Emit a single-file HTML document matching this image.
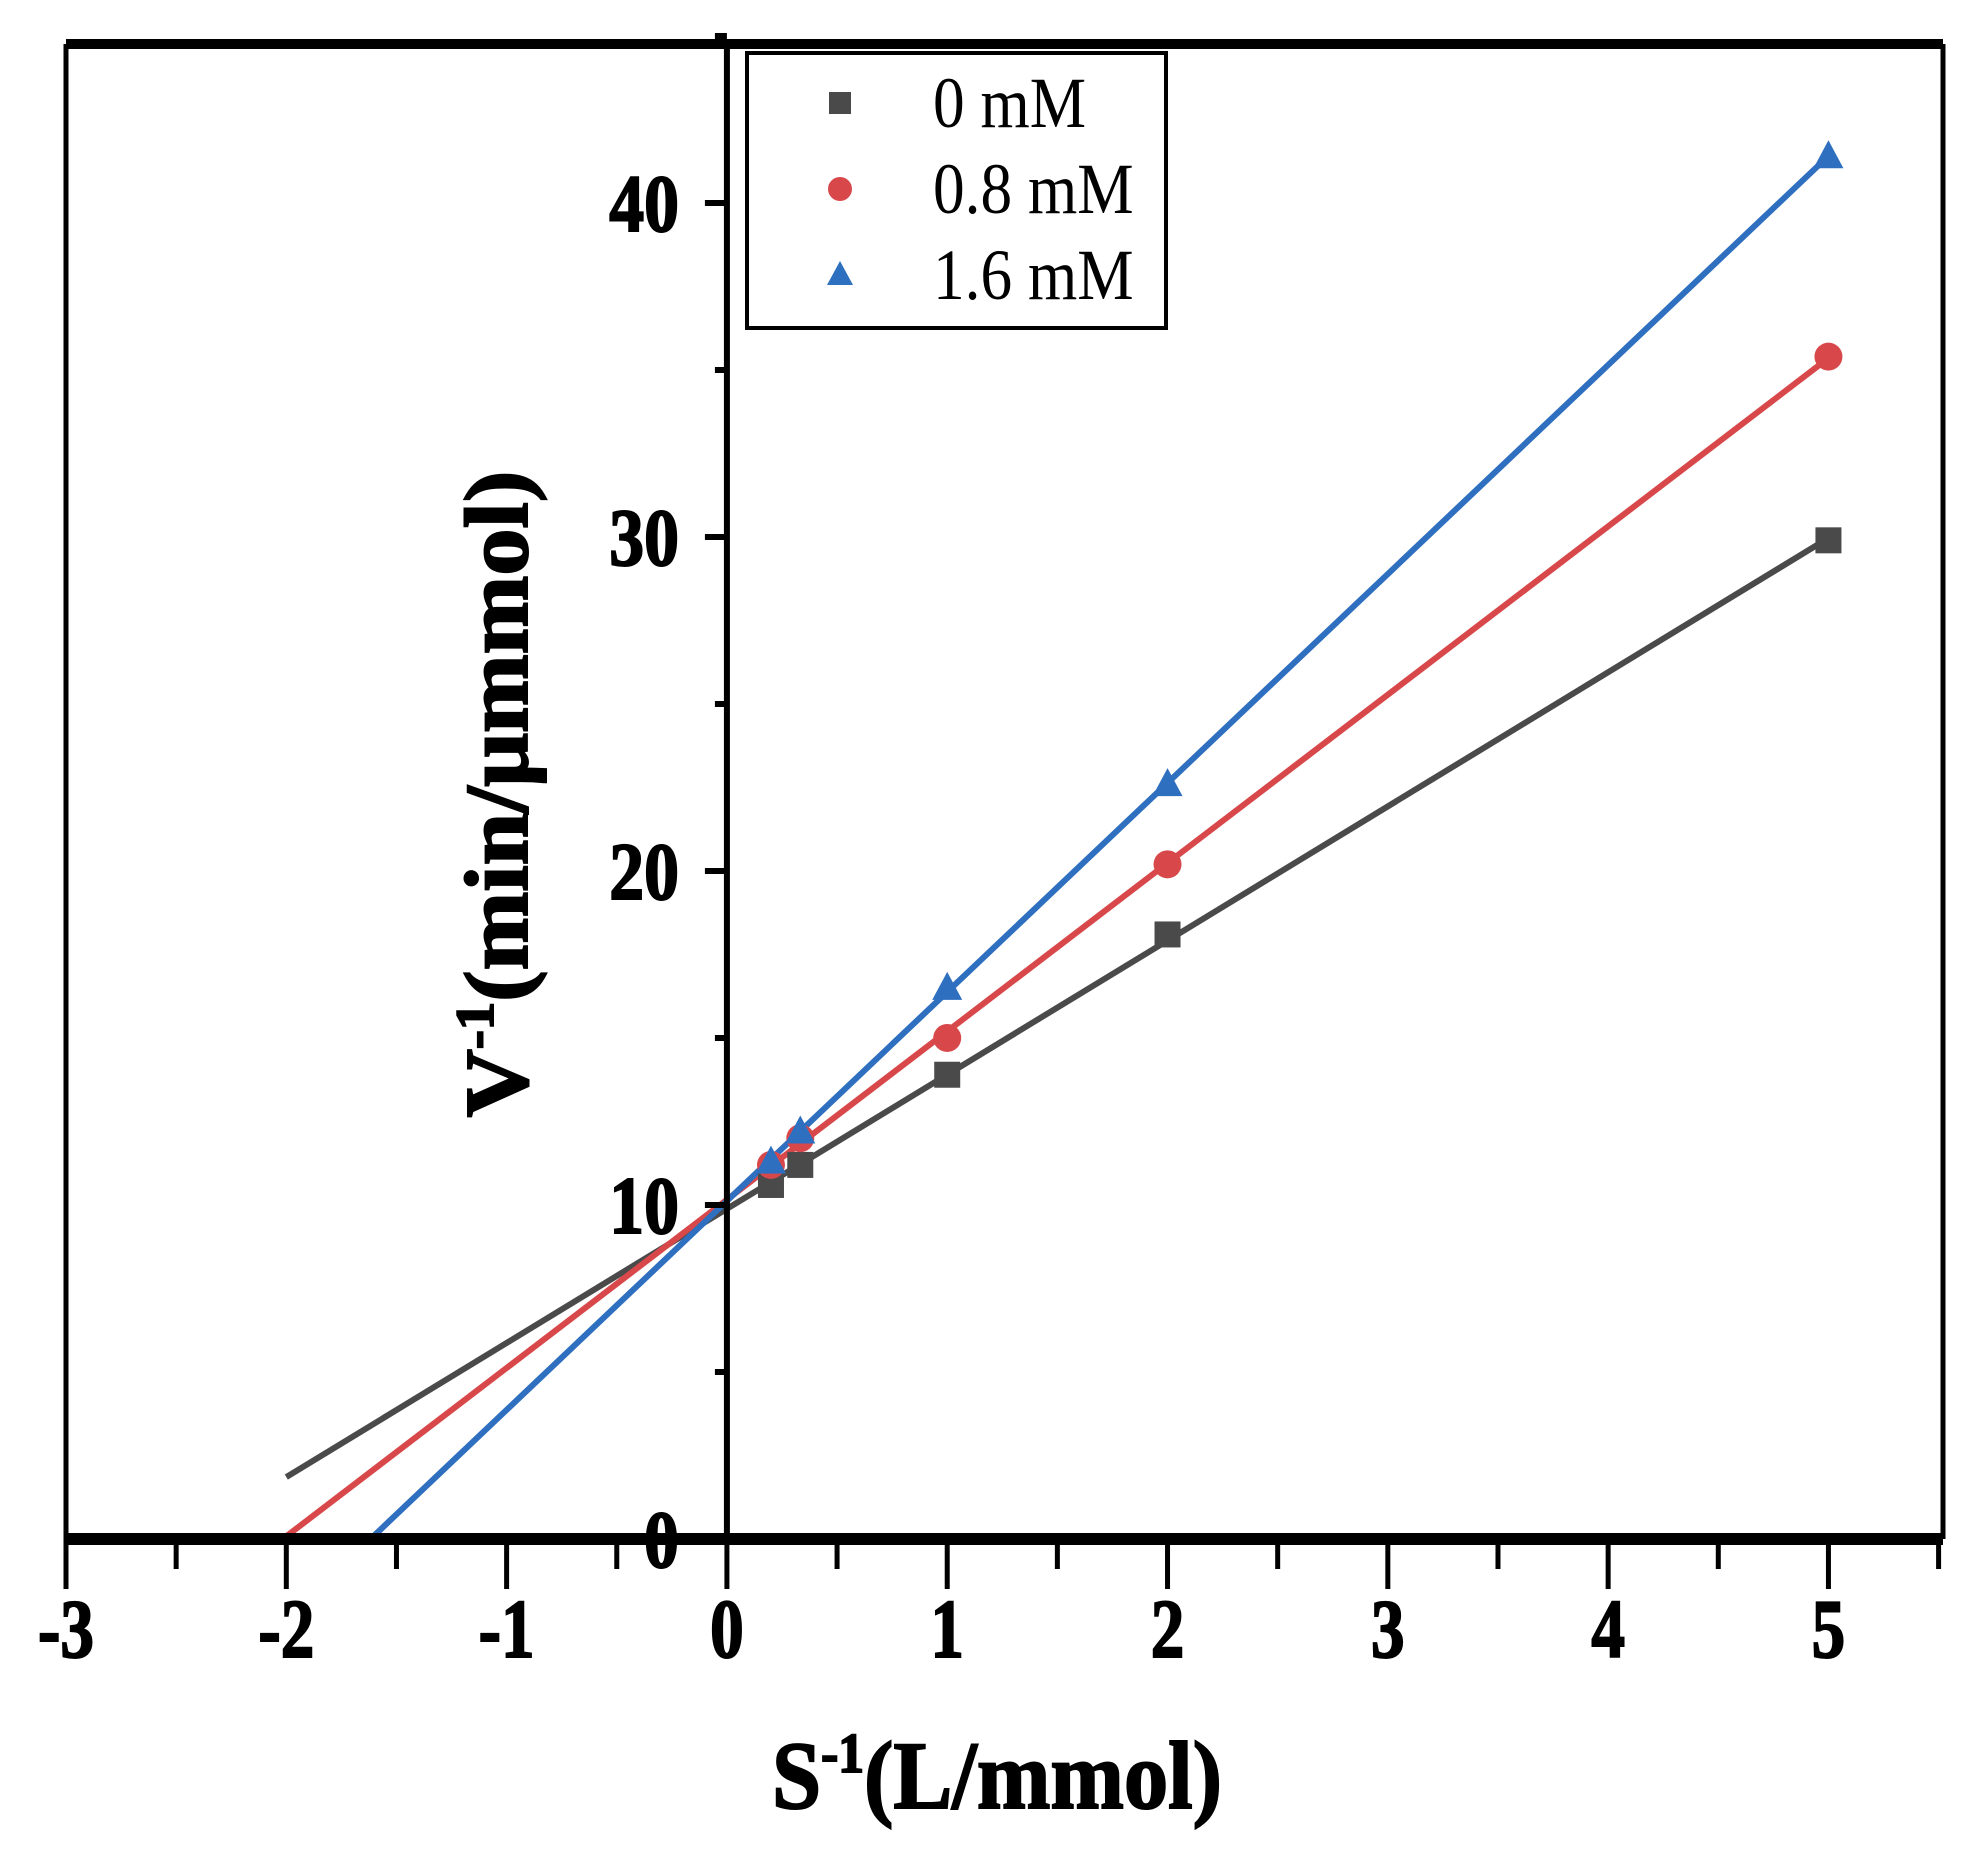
<!DOCTYPE html>
<html><head><meta charset="utf-8">
<style>
html,body{margin:0;padding:0;background:#fff;}
svg{display:block;}
text{font-family:"Liberation Serif",serif;font-weight:bold;fill:#000;}
</style></head>
<body>
<svg id="chart" width="1984" height="1857" viewBox="0 0 1984 1857" xmlns="http://www.w3.org/2000/svg"></svg>
<script>
const xValues = [0.2, 0.333, 1, 2, 5];
const series0 = [10.6, 11.2, 13.9, 18.1, 29.9];
const series08 = [11.2, 12.0, 15.0, 20.2, 35.4];
const series16 = [11.3, 12.2, 16.5, 22.6, 41.4];
const seriesNames = ["0 mM", "0.8 mM", "1.6 mM"];
const lineStarts = [-2, -2, -1.6];
const xTicks = [-3, -2, -1, 0, 1, 2, 3, 4, 5];
const yTicks = [0, 10, 20, 30, 40];

const svg = document.getElementById('chart');
const NS = 'http://www.w3.org/2000/svg';
const L = 66, R = 1943, T = 44, B = 1539;
const xMin = -3, xMax = 5.52, yMin = 0, yMax = 44.76;
function sx(v){ return L + (v - xMin) / (xMax - xMin) * (R - L); }
function sy(v){ return B - (v - yMin) / (yMax - yMin) * (B - T); }
function mk(tag, attrs, parent){
  const e = document.createElementNS(NS, tag);
  for (const k in attrs) e.setAttribute(k, attrs[k]);
  (parent || svg).appendChild(e);
  return e;
}
const colors = ["#4a4a4a", "#d8484a", "#2f6fc0"];
const allSeries = [series0, series08, series16];

let f = mk('line', {x1:L, y1:T, x2:R, y2:T, stroke:'#000', 'stroke-width':10});
 
f = mk('line', {x1:L, y1:T, x2:L, y2:B, stroke:'#000', 'stroke-width':5});
 
f = mk('line', {x1:R, y1:T, x2:R, y2:B, stroke:'#000', 'stroke-width':5});
 

allSeries.forEach((ys, i) => {
  const n = xValues.length;
  let sxv = 0, syv = 0, sxx = 0, sxy = 0;
  for (let k = 0; k < n; k++){ sxv += xValues[k]; syv += ys[k]; sxx += xValues[k]*xValues[k]; sxy += xValues[k]*ys[k]; }
  const m = (n*sxy - sxv*syv) / (n*sxx - sxv*sxv);
  const b = (syv - m*sxv) / n;
  const x0 = lineStarts[i], x1 = xValues[n-1];
  const ln = mk('line', {x1:sx(x0), y1:sy(Math.max(0, m*x0+b)), x2:sx(x1), y2:sy(m*x1+b), stroke:colors[i], 'stroke-width':6});
  
  
});

allSeries.forEach((ys, i) => {
  ys.forEach((v, k) => {
    const cx = sx(xValues[k]), cy = sy(v);
    let m;
    if (i === 0) m = mk('rect', {x:cx-13, y:cy-13, width:26, height:26, fill:colors[0]});
    else if (i === 1) m = mk('circle', {cx:cx, cy:cy, r:14, fill:colors[1]});
    else m = mk('polygon', {points:`${cx},${cy-16} ${cx-15},${cy+12} ${cx+15},${cy+12}`, fill:colors[2]});
    
    
  });
});

const yx = sx(0);
f = mk('line', {x1:yx, y1:T, x2:yx, y2:B, stroke:'#000', 'stroke-width':6});
 
for (let v = 0; v <= 45; v += 5){
  const major = v % 10 === 0;
  const t = mk('line', {x1:yx - (major ? 22 : 12), y1:sy(v), x2:yx, y2:sy(v), stroke:'#000', 'stroke-width':6});
  
  
}
yTicks.forEach(v => {
  const ax = yx - 48;
  const t = mk('text', {x:ax, y:sy(v) + 28, 'font-size':82, 'text-anchor':'end', stroke:'#000', 'stroke-width':2, transform:`translate(${ax},0) scale(0.85,1) translate(${-ax},0)`});
  t.textContent = v;
  
  
});

f = mk('line', {x1:L, y1:B, x2:R, y2:B, stroke:'#000', 'stroke-width':12});
 
for (let v = -3; v <= 5.5; v += 0.5){
  const major = Math.abs(v - Math.round(v)) < 1e-6;
  const t = mk('line', {x1:sx(v), y1:B, x2:sx(v), y2:B + (major ? 50 : 30), stroke:'#000', 'stroke-width':5});
  
  
}
xTicks.forEach(v => {
  const t = mk('text', {x:sx(v), y:B + 118, 'font-size':84, 'text-anchor':'middle', stroke:'#000', 'stroke-width':2, transform:`translate(${sx(v)},0) scale(0.8,1) translate(${-sx(v)},0)`});
  t.textContent = v < 0 ? '-' + Math.abs(v) : String(v);
  
  
});

let xt = mk('text', {x:997, y:1808, 'font-size':96, 'text-anchor':'middle', stroke:'#000', 'stroke-width':2, transform:'translate(997,0) scale(0.92,1) translate(-997,0)'});
xt.innerHTML = 'S<tspan dy="-36" font-size="56">-1</tspan><tspan dy="36">(L/mmol)</tspan>';
 
let yt = mk('text', {x:0, y:0, 'font-size':90, 'text-anchor':'middle', stroke:'#000', 'stroke-width':2, transform:'translate(527,794) rotate(-90) scale(1.05,1)'});
yt.innerHTML = 'V<tspan dy="-34" font-size="54">-1</tspan><tspan dy="34">(min/μmmol)</tspan>';
 

const lg = mk('g', {});
 
mk('rect', {x:747, y:53, width:419, height:275, fill:'#fff', stroke:'#000', 'stroke-width':4}, lg);
seriesNames.forEach((name, i) => {
  const cy = 103 + i * 86, cx = 840;
  let m;
  if (i === 0) m = mk('rect', {x:cx-11, y:cy-11, width:22, height:22, fill:colors[0]}, lg);
  else if (i === 1) m = mk('circle', {cx:cx, cy:cy, r:12, fill:colors[1]}, lg);
  else m = mk('polygon', {points:`${cx},${cy-14} ${cx-13},${cy+10} ${cx+13},${cy+10}`, fill:colors[2]}, lg);
  
  
  const t = mk('text', {x:933, y:cy + 24, 'font-size':72, style:'font-weight:normal', transform:'translate(933,0) scale(0.88,1) translate(-933,0)'}, lg);
  t.textContent = name;
  
  
});
</script>
</body></html>
